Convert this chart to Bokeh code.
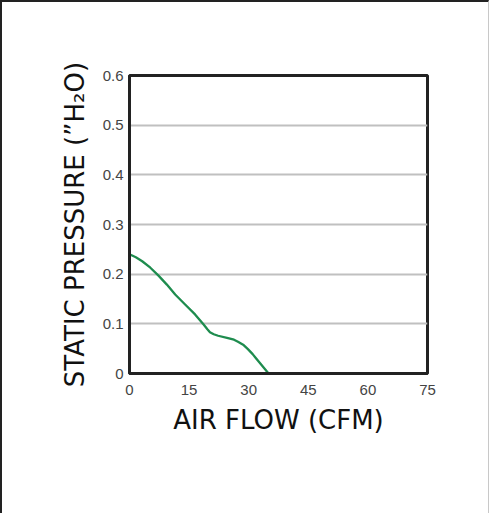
from bokeh.plotting import figure
from bokeh.models import Range1d, FixedTicker
from bokeh.embed import file_html
from bokeh.resources import INLINE

# Data
air_flow = [0, 1.6, 3.2, 5.25, 7.3, 9.4, 11.5, 14.0, 16.5, 18.6, 19.6, 20.25, 21.2, 22.3, 24.8, 26.3, 27.3, 28.6, 29.8, 31.0, 32.3, 35.0]
static_pressure = [0.24, 0.234, 0.226, 0.213, 0.197, 0.179, 0.159, 0.139, 0.119, 0.099, 0.089, 0.083, 0.079, 0.076, 0.071, 0.068, 0.064, 0.058, 0.049, 0.039, 0.026, 0.0]

x_ticks = [0, 15, 30, 45, 60, 75]
y_ticks = [0, 0.1, 0.2, 0.3, 0.4, 0.5, 0.6]
y_tick_labels = ["0", "0.1", "0.2", "0.3", "0.4", "0.5", "0.6"]

x_label = "AIR FLOW (CFM)"
y_label = "STATIC PRESSURE (\u201dH\u2082O)"

p = figure(width=489, height=513, output_backend="svg", toolbar_location=None,
           x_range=Range1d(0, 75), y_range=Range1d(0, 0.6),
           min_border_left=127, min_border_right=64, min_border_top=73, min_border_bottom=142)
p.styles = {"border-top": "2px solid #222", "border-left": "2px solid #222",
            "border-right": "1px solid #c8c8c8"}

p.line(air_flow, static_pressure, line_color="#1e8c4e", line_width=2.3,
       line_join="round")

p.xaxis.ticker = FixedTicker(ticks=x_ticks)
p.yaxis.ticker = FixedTicker(ticks=y_ticks)
p.yaxis.major_label_overrides = {t: l for t, l in zip(y_ticks, y_tick_labels)}

for ax in (p.xaxis[0], p.yaxis[0]):
    ax.axis_line_color = "#222222"
    ax.axis_line_width = 3
    ax.major_tick_line_color = None
    ax.minor_tick_line_color = None
    ax.major_label_text_font = "Liberation Sans"
    ax.major_label_text_font_size = "15px"
    ax.major_label_text_color = "#444444"
    ax.axis_label_text_font = "DejaVu Sans"
    ax.axis_label_text_font_size = "26px"
    ax.axis_label_text_font_style = "normal"
    ax.axis_label_text_color = "#111111"

p.xaxis.axis_label = x_label
p.yaxis.axis_label = y_label
p.xaxis.major_label_standoff = 5
p.yaxis.major_label_standoff = 0
p.xaxis.axis_label_standoff = 7
p.yaxis.axis_label_standoff = 10

p.xgrid.grid_line_color = None
p.ygrid.grid_line_color = "#c0c0c0"
p.ygrid.grid_line_width = 2

p.outline_line_color = "#222222"
p.outline_line_width = 3
p.outline_line_alpha = 1.0

open("out.html", "w").write(file_html(p, INLINE))
